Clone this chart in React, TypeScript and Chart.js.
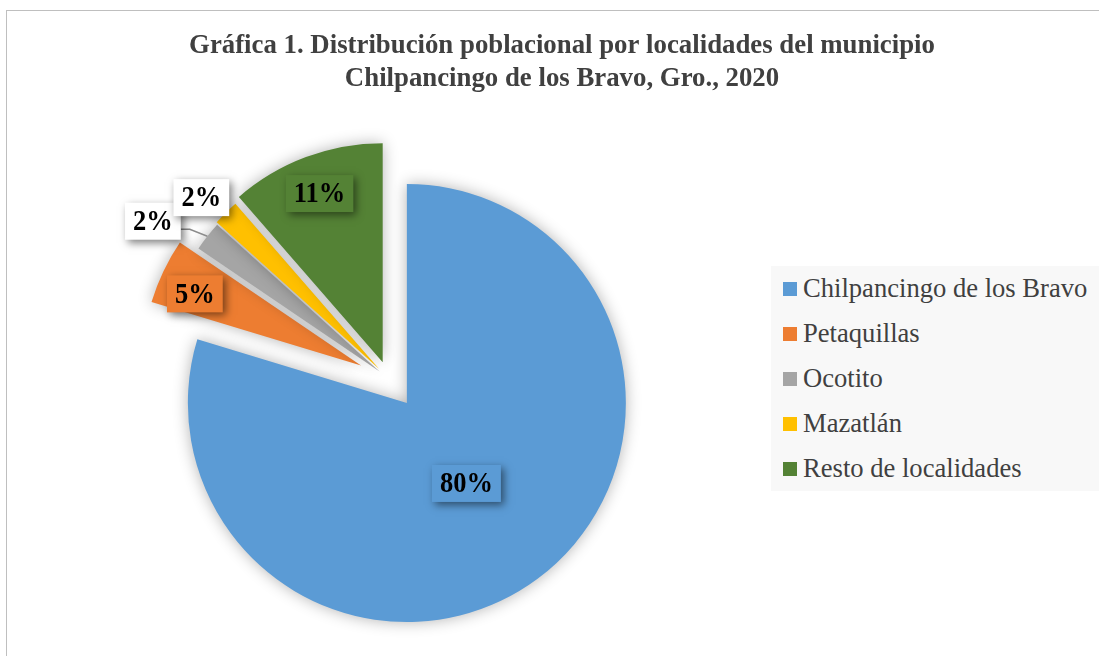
import React, { useEffect, useRef } from 'react';
import { Chart, registerables } from 'chart.js';

Chart.register(...registerables);

// ---------- data ----------
const categories = [
  'Chilpancingo de los Bravo',
  'Petaquillas',
  'Ocotito',
  'Mazatlán',
  'Resto de localidades',
];
const shares = [79.7, 4.8, 2.2, 1.9, 11.4];
const percentLabels = shares.map((v) => Math.round(v) + '%');
const titleLines = [
  'Gráfica 1. Distribución poblacional por localidades del municipio',
  'Chilpancingo de los Bravo, Gro., 2020',
];

// ---------- styles ----------
const colors = ['#5B9BD5', '#ED7D31', '#A5A5A5', '#FFC000', '#548235'];
const explode = [30, 31, 12, 14, 18];
const labelDist = [100, 181, 272, 247, 180];
const labelTurnDeg = [0, -2.2, -4.6, -1.6, 0];
const labelFill = ['#5B9BD5', '#ED7D31', '#FFFFFF', '#FFFFFF', '#548235'];
const labelLeader = [false, false, true, false, false];
const SERIF = "'Liberation Serif', 'Times New Roman', serif";
const CANVAS_W = 1112;
const CANVAS_H = 646;

const piePlugin = {
  id: 'excelPie',
  beforeDraw(chart: any) {
    const ctx = chart.ctx;
    ctx.save();
    ctx.strokeStyle = '#bfbfbf';
    ctx.lineWidth = 1;
    ctx.strokeRect(0.5, 0.5, chart.width + 20, chart.height + 20);
    ctx.restore();
  },
  afterLayout(chart: any) {
    const t = chart.titleBlock;
    if (t) {
      t.left = 0;
      t.right = chart.width;
      t.width = chart.width;
    }
  },
  afterDatasetsUpdate(chart: any) {
    const meta = chart.getDatasetMeta(0);
    meta.data.forEach((el: any, i: number) => {
      const mid = (el.startAngle + el.endAngle) / 2;
      el.x += explode[i] * Math.cos(mid);
      el.y += explode[i] * Math.sin(mid);
    });
  },
  beforeDatasetsDraw(chart: any) {
    const ctx = chart.ctx;
    ctx.save();
    ctx.shadowColor = 'rgba(0,0,0,0.3)';
    ctx.shadowBlur = 15;
  },
  afterDatasetsDraw(chart: any) {
    const ctx = chart.ctx;
    ctx.restore();
    const meta = chart.getDatasetMeta(0);
    ctx.save();
    ctx.font = 'bold 26.5px ' + SERIF;
    const boxes = meta.data.map((el: any, i: number) => {
      const mid = (el.startAngle + el.endAngle) / 2;
      const a = mid + (labelTurnDeg[i] * Math.PI) / 180;
      const cx = el.x + labelDist[i] * Math.cos(a);
      const cy = el.y + labelDist[i] * Math.sin(a);
      const w = ctx.measureText(percentLabels[i]).width + 16;
      const h = 37;
      return { el, mid, cx, cy, w, h };
    });
    // leader lines
    boxes.forEach((b: any, i: number) => {
      if (!labelLeader[i]) return;
      const r = b.el.outerRadius;
      const ex = b.el.x + r * Math.cos(b.mid);
      const ey = b.el.y + r * Math.sin(b.mid);
      const sx = b.cx + b.w / 2;
      const sy = b.cy + 8;
      ctx.beginPath();
      ctx.strokeStyle = '#8c8c8c';
      ctx.lineWidth = 1.5;
      ctx.moveTo(sx, sy);
      ctx.lineTo(sx + 9, sy);
      ctx.lineTo(ex, ey);
      ctx.stroke();
    });
    boxes.forEach((b: any, i: number) => {
      ctx.save();
      ctx.shadowColor = 'rgba(0,0,0,0.5)';
      ctx.shadowBlur = 8;
      ctx.shadowOffsetX = 3;
      ctx.shadowOffsetY = 3;
      ctx.fillStyle = labelFill[i];
      ctx.fillRect(b.cx - b.w / 2, b.cy - b.h / 2, b.w, b.h);
      ctx.restore();
      ctx.save();
      ctx.translate(b.cx, b.cy + 1);
      ctx.scale(1, 1.12);
      ctx.fillStyle = '#000000';
      ctx.textAlign = 'center';
      ctx.textBaseline = 'middle';
      ctx.fillText(percentLabels[i], 0, 0);
      ctx.restore();
    });
    ctx.restore();
  },
};

export default function App() {
  const ref = useRef<HTMLCanvasElement>(null);

  useEffect(() => {
    if (!ref.current) return;
    const chart = new Chart(ref.current, {
      type: 'pie',
      data: {
        labels: categories,
        datasets: [
          {
            data: shares,
            backgroundColor: colors,
            borderWidth: 0,
            radius: 219,
            clip: false,
          } as any,
        ],
      },
      options: {
        responsive: false,
        animation: false,
        events: [],
        layout: { padding: { left: 0, right: 346, top: 0, bottom: 0.5 } },
        plugins: {
          legend: { display: false },
          tooltip: { enabled: false },
          title: {
            display: true,
            text: titleLines,
            color: '#404040',
            font: { family: SERIF, size: 26.8, weight: 'bold', lineHeight: 33 / 26.8 },
            padding: { top: 20, bottom: 6.5 },
          },
        },
      } as any,
      plugins: [piePlugin],
    });
    return () => chart.destroy();
  }, []);

  return (
    <div
      style={{
        position: 'relative',
        width: 1099,
        height: 656,
        overflow: 'hidden',
        background: '#ffffff',
      }}
    >
      <style>{'body{margin:0;}'}</style>
      <canvas
        ref={ref}
        width={CANVAS_W}
        height={CANVAS_H}
        style={{ position: 'absolute', left: 6, top: 10 }}
      />
      <div
        style={{
          position: 'absolute',
          left: 771,
          top: 266,
          width: 340,
          height: 225,
          background: '#f8f8f8',
        }}
      >
        {categories.map((c, i) => (
          <div
            key={c}
            style={{
              display: 'flex',
              alignItems: 'center',
              height: 45,
              paddingLeft: 12,
              fontFamily: SERIF,
              fontSize: 26.6,
              color: '#404040',
              whiteSpace: 'nowrap',
            }}
          >
            <span
              style={{
                display: 'inline-block',
                width: 14,
                height: 14,
                background: colors[i],
                marginRight: 6,
                flex: 'none',
              }}
            />
            <span style={{ lineHeight: '45px' }}>{c}</span>
          </div>
        ))}
      </div>
    </div>
  );
}
